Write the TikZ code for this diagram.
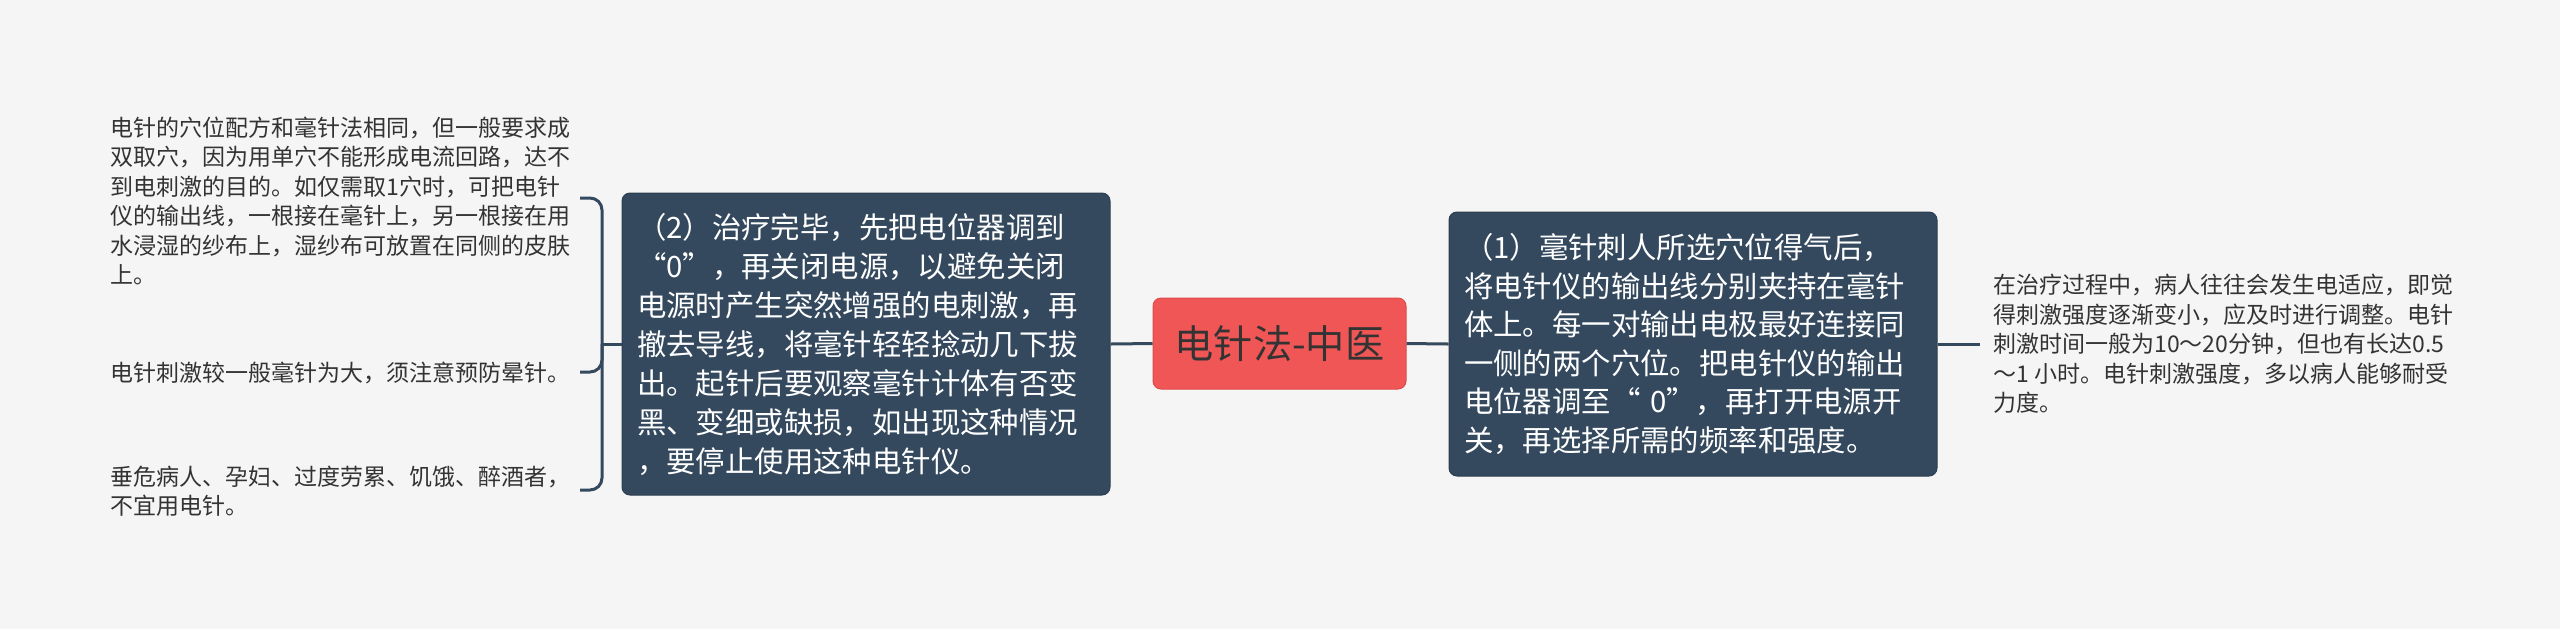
\documentclass[tikz,border=0pt]{standalone}
\usepackage{fontspec}
\setmainfont{Noto Sans CJK SC}
\definecolor{bgc}{HTML}{F5F5F5}
\definecolor{boxc}{HTML}{34495E}
\definecolor{boxd}{HTML}{2C3E50}
\definecolor{redc}{HTML}{F05656}
\definecolor{redd}{HTML}{E04A4A}
\definecolor{txtc}{HTML}{333333}
\begin{document}
\begin{tikzpicture}[x=0.5pt,y=-0.5pt,
  topicbox/.style={fill=boxc, draw=boxd, line width=0.5pt, rounded corners=4pt,
    text=white, font=\fontsize{14.7pt}{19.5pt}\selectfont, align=left,
    inner ysep=0pt, inner xsep=7.5pt, text width=229pt, minimum width=244pt},
  centerbox/.style={fill=redc, draw=redd, line width=0.5pt, rounded corners=4pt,
    text=txtc, font=\fontsize{19.6pt}{23pt}\selectfont, inner sep=0pt,
    minimum width=126.5pt, minimum height=45.5pt},
  leaf/.style={text=txtc, font=\fontsize{11.5pt}{14.75pt}\selectfont, align=left, inner sep=0pt, anchor=west},
  conn/.style={draw=boxc, line width=1.5pt}
]
\fill[bgc] (0,0) rectangle (2560,629);
\useasboundingbox (0,0) rectangle (2560,629);

\node[centerbox] (c) at (1279.5,343.5) {电针法-中医};

\node[topicbox, minimum height=151pt] (lb) at (866,344) {%
（2）治疗完毕，先把电位器调到\\
“0”，再关闭电源，以避免关闭\\
电源时产生突然增强的电刺激，再\\
撤去导线，将毫针轻轻捻动几下拔\\
出。起针后要观察毫针计体有否变\\
黑、变细或缺损，如出现这种情况\\
，要停止使用这种电针仪。};

\node[topicbox, minimum height=132pt, font=\fontsize{14.7pt}{19.25pt}\selectfont] (rb) at (1693,344) {%
（1）毫针刺人所选穴位得气后，\\
将电针仪的输出线分别夹持在毫针\\
体上。每一对输出电极最好连接同\\
一侧的两个穴位。把电针仪的输出\\
电位器调至“ 0”，再打开电源开\\
关，再选择所需的频率和强度。};

\node[leaf, inner xsep=6.5pt] (rt) at (1980,344) {%
在治疗过程中，病人往往会发生电适应，即觉\\
得刺激强度逐渐变小，应及时进行调整。电针\\
刺激时间一般为10～20分钟，但也有长达0.5\\
～1 小时。电针刺激强度，多以病人能够耐受\\
力度。};

\node[leaf] (t1) at (110,201) {%
电针的穴位配方和毫针法相同，但一般要求成\\
双取穴，因为用单穴不能形成电流回路，达不\\
到电刺激的目的。如仅需取1穴时，可把电针\\
仪的输出线，一根接在毫针上，另一根接在用\\
水浸湿的纱布上，湿纱布可放置在同侧的皮肤\\
上。};
\node[leaf] (t2) at (110,373) {电针刺激较一般毫针为大，须注意预防晕针。};
\node[leaf] (t3) at (110,491) {垂危病人、孕妇、过度劳累、饥饿、醉酒者，\\不宜用电针。};

\coordinate (bj) at (602,344);
\coordinate (h1) at (580,198);
\coordinate (h2) at (580,372);
\coordinate (h3) at (580,490);

\draw[conn] (c.west) -- (lb.east);
\draw[conn] (c.east) -- (rb.west);
\draw[conn] (rb.east) -- (rt.west);
\draw[conn] (lb.west) -- (bj);
\draw[conn, rounded corners=6pt] (h1) -| (bj) |- (h3);
\draw[conn, rounded corners=6pt] (bj) |- (h2);
\end{tikzpicture}
\end{document}
